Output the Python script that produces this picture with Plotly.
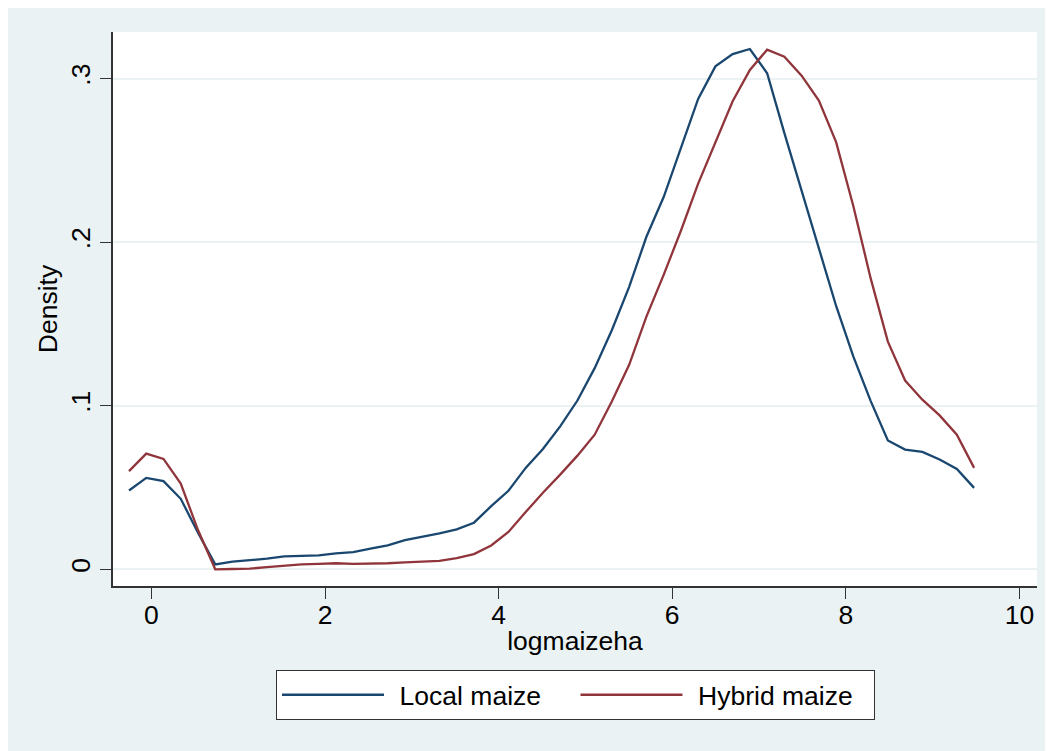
import plotly.graph_objects as go

# x grid of the kernel density estimates (50 points)
x_start = -0.258
x_step = 0.1987
n_points = 50
x_vals = [round(x_start + i * x_step, 4) for i in range(n_points)]

local_maize = [
    0.0482, 0.0559, 0.0539, 0.0431, 0.0224, 0.0030, 0.0047, 0.0055, 0.0065, 0.0079,
    0.0081, 0.0085, 0.0098, 0.0105, 0.0126, 0.0146, 0.0179, 0.0199, 0.0220, 0.0244,
    0.0285, 0.0386, 0.0480, 0.0620, 0.0736, 0.0874, 0.1032, 0.1230, 0.1463, 0.1727,
    0.2033, 0.2276, 0.2571, 0.2876, 0.3075, 0.3150, 0.3181, 0.3033, 0.2667, 0.2313,
    0.1957, 0.1610, 0.1300, 0.1030, 0.0788, 0.0732, 0.0718, 0.0671, 0.0614, 0.0498,
]

hybrid_maize = [
    0.0600, 0.0707, 0.0675, 0.0524, 0.0240, 0.0000, 0.0002, 0.0004, 0.0014, 0.0024,
    0.0030, 0.0033, 0.0037, 0.0033, 0.0033, 0.0037, 0.0043, 0.0047, 0.0051, 0.0069,
    0.0093, 0.0146, 0.0228, 0.0350, 0.0468, 0.0579, 0.0695, 0.0823, 0.1027, 0.1250,
    0.1545, 0.1800, 0.2070, 0.2358, 0.2610, 0.2862, 0.3053, 0.3177, 0.3134, 0.3018,
    0.2866, 0.2612, 0.2220, 0.1780, 0.1392, 0.1154, 0.1037, 0.0941, 0.0823, 0.0620,
]

series_names = ["Local maize", "Hybrid maize"]
x_ticks = [0, 2, 4, 6, 8, 10]
x_ticklabels = ["0", "2", "4", "6", "8", "10"]
y_ticks = [0, 0.1, 0.2, 0.3]
y_ticklabels = ["0", ".1", ".2", ".3"]

NAVY = "#1A476F"
MAROON = "#90353B"
BG = "#EAF2F3"
AXIS = "#333333"
FONT = "Liberation Sans, Arial, sans-serif"
FS = 26.5

THIN = "\u2009"
NBSP = "\u00a0"

fig = go.Figure()
fig.add_trace(go.Scatter(x=x_vals, y=local_maize, mode="lines",
                         name=THIN * 2 + series_names[0] + NBSP * 4,
                         line=dict(color=NAVY, width=2.3)))
fig.add_trace(go.Scatter(x=x_vals, y=hybrid_maize, mode="lines",
                         name=THIN * 2 + series_names[1] + THIN * 3,
                         line=dict(color=MAROON, width=2.3)))

# page body has an 8px margin, so the figure is 8px smaller than the window
W, H = 1045, 743
L, R, T, B = 105, 16, 24, 165
pw, ph = W - L - R, H - T - B


def px(p):
    return (p - L) / pw


def py(q):
    return (H - B - q) / ph


fig.update_layout(
    width=W, height=H,
    margin=dict(l=L, r=R, t=T, b=B),
    paper_bgcolor=BG,
    plot_bgcolor="white",
    font=dict(family=FONT, size=FS, color="black"),
    showlegend=True,
    legend=dict(
        orientation="h",
        x=px(567.5), xanchor="center",
        y=py(662), yanchor="top",
        bgcolor="white",
        bordercolor=AXIS, borderwidth=1,
        font=dict(family=FONT, size=FS, color="black"),
        itemwidth=102,
        traceorder="normal",
    ),
    xaxis=dict(
        range=[-0.4424, 10.203],
        tickvals=x_ticks, ticktext=x_ticklabels,
        ticks="outside", ticklen=11, tickwidth=1.3, tickcolor=AXIS,
        ticklabelstandoff=-7,
        showline=True, linecolor=AXIS, linewidth=1.6,
        showgrid=False, zeroline=False,
        tickfont=dict(family=FONT, size=FS, color="black"),
        title=dict(text="logmaizeha", standoff=3,
                   font=dict(family=FONT, size=FS, color="black")),
    ),
    yaxis=dict(
        range=[-0.0102, 0.3285],
        tickvals=y_ticks, ticktext=y_ticklabels,
        tickangle=-90,
        ticks="outside", ticklen=11, tickwidth=1.3, tickcolor=AXIS,
        showline=True, linecolor=AXIS, linewidth=1.6,
        showgrid=True, gridcolor=BG, gridwidth=1.8,
        zeroline=False,
        tickfont=dict(family=FONT, size=FS, color="black"),
        title=dict(text="Density", standoff=0,
                   font=dict(family=FONT, size=FS, color="black")),
    ),
)

fig.write_html("out.html")
